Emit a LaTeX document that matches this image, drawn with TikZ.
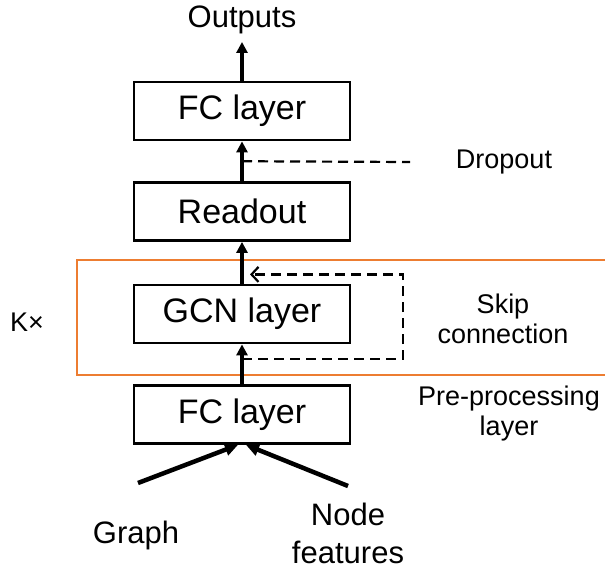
\documentclass[tikz,border=0pt]{standalone}
\usepackage{fontspec}
\setmainfont{Liberation Sans}
\usetikzlibrary{arrows.meta,calc}
\definecolor{blockorange}{RGB}{237,125,49}
\newcommand{\boxfont}{\fontsize{34}{40}\selectfont}
\newcommand{\iofont}{\fontsize{31}{38}\selectfont}
\newcommand{\sidefont}{\fontsize{27}{30}\selectfont}

\begin{document}
\begin{tikzpicture}[x=1pt,y=-1pt,
    layer/.style={draw, line width=2.8pt, minimum width=216pt, minimum height=58pt, inner sep=0pt, font=\boxfont},
    flow/.style={-{Triangle[length=11pt,width=11pt]}, line width=3.5pt},
    feed/.style={-{Triangle[length=13pt,width=12pt]}, line width=4.5pt},
    side/.style={dash pattern=on 10pt off 6pt, line width=2.2pt}]
    \useasboundingbox (0,0) rectangle (605,572);
    \draw[blockorange, line width=2.8pt] (612,260) -- (77,260) -- (77,375) -- (612,375);
    \node[layer] (fctop) at (242,111) {FC layer};
    \node[layer] (readout) at (242,211.5) {Readout};
    \node[layer] (gcn) at (242,314) {GCN layer};
    \node[layer] (fcbot) at (242,414.5) {FC layer};
    \node[font=\iofont, anchor=base] (outputs) at (242,28) {Outputs};
    \node[font=\sidefont, anchor=base] (dropout) at (504,169) {Dropout};
    \node[font=\sidefont, align=center] (skiplbl) at (503,319) {Skip\\connection};
    \node[font=\sidefont, align=center] (preproc) at (509,414) {Pre-processing\\layer};
    \node[font=\sidefont] (kx) at (27,322) {K×};
    \node[font=\iofont, anchor=base] (graph) at (136,543) {Graph};
    \node[font=\iofont, align=center] (nodefeat) at (348,533) {Node\\features};
    \draw[flow] (fcbot) -- (gcn);
    \draw[flow] (gcn) -- (readout);
    \draw[flow] (readout) -- (fctop);
    \draw[flow] (fctop) -- ([yshift=-4pt]outputs.south);
    \coordinate (gin) at (138,483);
    \coordinate (nin) at (348,486);
    \draw[feed] (gin) -- ([xshift=-4pt]fcbot.south);
    \draw[feed] (nin) -- ([xshift=4pt]fcbot.south);
    \coordinate (dropA) at ($(readout.north)!.5!(fctop.south)$);
    \coordinate (dropB) at (410,162);
    \draw[side] (dropA) -- (dropB);
    \coordinate (skipA) at ($(gcn.south)!.37!(fcbot.north)$);
    \coordinate (skipB) at ($(gcn.north)!.22!(readout.south)$);
    \coordinate (skipR) at (403,318);
    \draw[side, -{Straight Barb[length=7pt,width=15pt]}] (skipA) -| (skipR) |- ([xshift=8pt]skipB);
\end{tikzpicture}
\end{document}
